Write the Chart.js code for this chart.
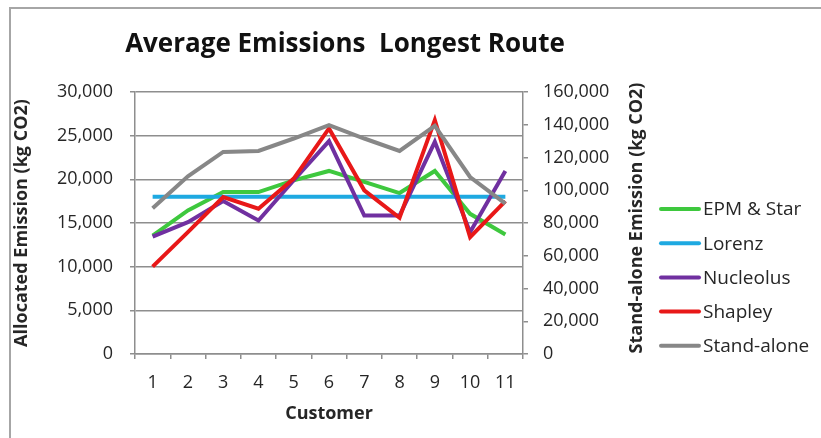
<!DOCTYPE html>
<html>
<head>
<meta charset="utf-8">
<script src="https://cdn.jsdelivr.net/npm/chart.js@4.4.1/dist/chart.umd.min.js"></script>
<style>
  html, body { margin: 0; padding: 0; background: #ffffff; }
  #wrap { position: relative; width: 821px; height: 438px; }
</style>
</head>
<body>
<div id="wrap"><canvas id="chart" width="821" height="438"></canvas></div>
<script>
// Customers along the route
const customers = ['1', '2', '3', '4', '5', '6', '7', '8', '9', '10', '11'];

// Allocated emissions per customer (kg CO2), left axis
const epmStar   = [13560, 16440, 18540, 18540, 19890, 20960, 19700, 18430, 20960, 16050, 13680];
const lorenz    = [18000, 18000, 18000, 18000, 18000, 18000, 18000, 18000, 18000, 18000, 18000];
const nucleolus = [13450, 15100, 17510, 15290, 19890, 24370, 15860, 15860, 24290, 13950, 20960];
const shapley   = [10000, 13950, 17970, 16630, 20080, 25830, 18740, 15590, 26780, 13370, 17510];

// Stand-alone emission per customer (kg CO2), right axis
const standAlone = [89000, 108500, 123400, 124000, 131600, 139800, 131600, 124000, 139300, 108100, 91800];

const seriesNames = ['EPM & Star', 'Lorenz', 'Nucleolus', 'Shapley', 'Stand-alone'];
const seriesColors = ['#3ec83e', '#1ea9e1', '#7030a0', '#e81818', '#878787'];

const TEXT = '#262626';
const AXIS = '#8e8e8e';
const FONT = "'Open Sans', 'DejaVu Sans', sans-serif";

const fmt = v => Number(v).toLocaleString('en-US');

// Outer frame, heading, right axis title and legend
const decorations = {
  id: 'decorations',
  beforeDraw(chart) {
    const ctx = chart.ctx;
    ctx.save();
    ctx.fillStyle = '#ffffff';
    ctx.fillRect(0, 0, chart.width, chart.height);
    ctx.strokeStyle = '#a6a6a6';
    ctx.lineWidth = 2;
    ctx.beginPath();
    ctx.moveTo(10, chart.height);
    ctx.lineTo(10, 8);
    ctx.lineTo(chart.width, 8);
    ctx.stroke();
    ctx.restore();
  },
  afterDraw(chart) {
    const ctx = chart.ctx;
    ctx.save();
    ctx.fillStyle = '#111111';
    ctx.font = "bold 26px " + FONT;
    ctx.textAlign = 'center';
    ctx.textBaseline = 'middle';
    ctx.fillText('Average Emissions  Longest Route', 345, 45);

    // right axis title, reading bottom to top
    const r = chart.scales.y1;
    ctx.save();
    ctx.translate(r.right - 13, 218);
    ctx.rotate(-Math.PI / 2);
    ctx.fillStyle = TEXT;
    ctx.font = "bold 18px " + FONT;
    ctx.fillText('Stand-alone Emission (kg CO2)', 0, 0);
    ctx.restore();

    // legend
    ctx.font = "19px " + FONT;
    ctx.textAlign = 'left';
    chart.data.datasets.forEach((ds, i) => {
      const y = 209 + i * 34.2;
      ctx.strokeStyle = ds.borderColor;
      ctx.lineWidth = 4;
      ctx.lineCap = 'round';
      ctx.beginPath();
      ctx.moveTo(661, y);
      ctx.lineTo(699, y);
      ctx.stroke();
      ctx.fillStyle = TEXT;
      ctx.fillText(ds.label, 703, y + 1);
    });
    ctx.restore();
  }
};

const seriesData = [epmStar, lorenz, nucleolus, shapley, standAlone];

const datasets = seriesNames.map((name, i) => ({
  label: name,
  data: seriesData[i],
  borderColor: seriesColors[i],
  backgroundColor: seriesColors[i],
  borderWidth: 4,
  pointRadius: 0,
  tension: 0,
  fill: false,
  yAxisID: i === 4 ? 'y1' : 'y',
  order: 5 - i
}));

new Chart(document.getElementById('chart'), {
  type: 'line',
  data: { labels: customers, datasets },
  plugins: [decorations],
  options: {
    responsive: false,
    animation: false,
    devicePixelRatio: 1,
    layout: { padding: { left: 10, right: 171, top: 92, bottom: 0 } },
    plugins: {
      legend: { display: false },
      title: { display: false },
      tooltip: { enabled: false }
    },
    scales: {
      x: {
        type: 'category',
        offset: true,
        grid: { offset: true, drawOnChartArea: false, drawTicks: true, tickLength: 5, color: AXIS, lineWidth: 1.5 },
        border: { color: AXIS, width: 1.5 },
        ticks: { color: TEXT, font: { family: FONT, size: 18 }, padding: 13, maxRotation: 0, autoSkip: false },
        title: { display: true, text: 'Customer', color: TEXT, font: { family: FONT, size: 18, weight: 'bold' }, padding: { top: 0, bottom: 13 } },
        afterFit(s) { s.height = 84; }
      },
      y: {
        position: 'left',
        min: 0,
        max: 30000,
        ticks: { stepSize: 5000, color: TEXT, font: { family: FONT, size: 18 }, padding: 17, callback: v => fmt(v) },
        grid: { color: AXIS, lineWidth: 1.5, tickLength: 5 },
        border: { color: AXIS, width: 1.5 },
        title: { display: true, text: 'Allocated Emission (kg CO2)', color: TEXT, font: { family: FONT, size: 18, weight: 'bold' }, padding: { top: 1, bottom: 0 } },
        afterFit(s) { s.width = 125; }
      },
      y1: {
        position: 'right',
        min: 0,
        max: 160000,
        ticks: { stepSize: 20000, color: TEXT, font: { family: FONT, size: 18 }, padding: 15, callback: v => fmt(v) },
        grid: { drawOnChartArea: false, color: AXIS, lineWidth: 1.5, tickLength: 5 },
        border: { color: AXIS, width: 1.5 },
        title: { display: false },
        afterFit(s) { s.width = 127; }
      }
    }
  }
});
</script>
</body>
</html>
